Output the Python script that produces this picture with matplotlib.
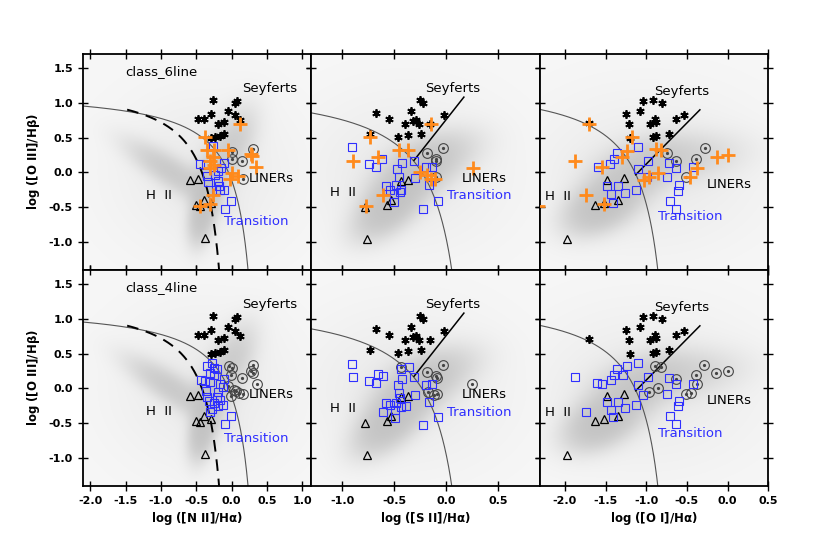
import numpy as np
import matplotlib
matplotlib.use('Agg')
import matplotlib.pyplot as plt

# ---- data ----
# Seyferts (same objects in both rows)
sey_n2 = [(-0.261, 1.036), (-0.48, 0.767), (-0.385, 0.767), (-0.294, 0.844), (-0.185, 0.691),
          (-0.109, 0.729), (-0.052, 0.887), (0.043, 0.993), (0.071, 1.026), (0.043, 0.825),
          (0.123, 0.748), (-0.29, 0.489), (-0.228, 0.513), (-0.166, 0.528), (-0.109, 0.547)]
sey_s2 = [(-0.68, 0.849), (-0.549, 0.772), (-0.734, 0.552), (-0.469, 0.504), (-0.399, 0.691),
          (-0.367, 0.537), (-0.342, 0.882), (-0.319, 0.739), (-0.287, 0.753), (-0.265, 0.691),
          (-0.255, 1.041), (-0.224, 0.993), (-0.239, 0.547), (-0.153, 0.695), (-0.026, 0.825)]
sey_o1 = [(-1.044, 1.026), (-0.921, 1.041), (-0.803, 0.993), (-1.077, 0.882), (-1.249, 0.839),
          (-1.699, 0.705), (-1.208, 0.695), (-0.954, 0.695), (-0.893, 0.763), (-0.88, 0.729),
          (-0.635, 0.763), (-0.536, 0.825), (-1.2, 0.489), (-0.913, 0.513), (-0.88, 0.528),
          (-0.717, 0.547)]

# H II (triangles)
hii_n2 = [(-0.584, -0.11), (-0.48, -0.091), (-0.499, -0.468), (-0.451, -0.482), (-0.394, -0.396),
          (-0.29, -0.435), (-0.38, -0.946)]
hii_s2 = [(-0.437, -0.12), (-0.372, -0.105), (-0.536, -0.398), (-0.568, -0.47), (-0.779, -0.49),
          (-0.766, -0.96)]
hii_o1 = [(-1.487, -0.115), (-1.269, -0.086), (-1.634, -0.468), (-1.519, -0.44), (-1.343, -0.4),
          (-1.97, -0.95)]

# class_6line (top row)
lin6_n2 = [(0.309, 0.341), (0.0, 0.297), (0.0, 0.192), (0.142, 0.163), (0.166, -0.10)]
lin6_s2 = [(-0.185, 0.283), (-0.032, 0.345), (-0.102, 0.187), (-0.096, 0.17), (-0.096, -0.072)]
lin6_o1 = [(-0.749, 0.283), (-0.635, 0.168), (-0.393, 0.192), (-0.278, 0.345), (-0.516, -0.072)]

tr6_n2 = [(-0.267, 0.373), (-0.443, 0.123), (-0.111, 0.133), (-0.149, 0.07), (-0.196, 0.023),
          (-0.348, -0.045), (-0.339, -0.141), (-0.196, -0.121), (-0.182, -0.188), (-0.215, -0.246),
          (-0.158, -0.256), (-0.111, -0.256), (-0.006, -0.409), (-0.087, -0.524), (-0.358, 0.109),
          (-0.229, -0.035)]
tr6_s2 = [(-0.91, 0.36), (-0.741, 0.12), (-0.677, 0.082), (-0.616, 0.192), (-0.473, 0.048),
          (-0.421, 0.139), (-0.457, -0.062), (-0.581, -0.192), (-0.543, -0.245), (-0.479, -0.182),
          (-0.431, -0.254), (-0.501, -0.312), (-0.447, -0.278), (-0.501, -0.422), (-0.31, 0.168),
          (-0.303, -0.077), (-0.198, 0.072), (-0.137, 0.072), (-0.166, -0.182), (-0.08, -0.408),
          (-0.224, -0.518)]
tr6_o1 = [(-1.106, 0.36), (-1.355, 0.283), (-1.392, 0.187), (-1.446, 0.12), (-1.597, 0.082),
          (-0.975, 0.168), (-1.097, 0.043), (-0.717, 0.139), (-0.639, 0.058), (-0.741, -0.072),
          (-1.487, -0.197), (-1.343, -0.192), (-1.261, -0.293), (-1.437, -0.312), (-1.413, -0.432),
          (-1.126, -0.245), (-0.987, -0.062), (-0.422, 0.072), (-0.594, -0.173), (-0.606, -0.264),
          (-0.708, -0.408), (-0.635, -0.518)]

amb6_n2 = [(0.119, 0.691), (-0.38, 0.513), (-0.347, 0.321), (-0.242, 0.321), (-0.047, 0.321),
           (-0.261, 0.225), (-0.299, 0.168), (-0.252, 0.106), (-0.309, 0.058), (0.294, 0.235),
           (0.271, 0.259), (0.342, 0.072), (0.009, -0.014), (0.09, -0.053), (-0.024, -0.101),
           (-0.261, -0.326), (-0.309, -0.446), (-0.442, -0.48)]
amb6_s2 = [(-0.144, 0.691), (-0.734, 0.513), (-0.453, 0.321), (-0.367, 0.321), (-0.894, 0.168),
           (-0.661, 0.216), (-0.255, 0.01), (-0.185, -0.038), (-0.144, -0.101), (-0.112, -0.101),
           (0.255, 0.058), (-0.607, -0.326), (-0.776, -0.48)]
amb6_o1 = [(-1.699, 0.695), (-1.179, 0.504), (-1.241, 0.307), (-0.88, 0.331), (-0.823, 0.321),
           (-1.876, 0.168), (-1.548, 0.072), (-1.302, 0.216), (-1.028, -0.11), (-0.962, -0.062),
           (-0.852, -0.005), (-0.463, -0.062), (-0.381, 0.058), (-0.135, 0.225), (0.008, 0.249),
           (-1.74, -0.326), (-1.519, -0.446), (-2.33, -0.484)]

# class_4line (bottom row)
lin4_n2 = [(-0.038, 0.32), (0.0, 0.296), (-0.005, 0.186), (0.142, 0.153), (0.304, 0.339),
           (0.28, 0.248), (0.3, 0.22), (0.356, 0.067), (0.033, -0.024), (0.066, -0.043),
           (0.104, -0.062), (0.166, -0.086), (-0.014, -0.11), (-0.047, 0.033)]
lin4_s2 = [(-0.431, 0.306), (-0.182, 0.229), (-0.032, 0.334), (-0.096, 0.181), (-0.086, 0.143),
           (-0.172, -0.053), (-0.118, -0.100), (-0.093, -0.081), (0.249, 0.057)]
lin4_o1 = [(-0.893, 0.319), (-0.823, 0.31), (-0.639, 0.138), (-0.393, 0.186), (-0.291, 0.333),
           (-0.143, 0.224), (0.008, 0.248), (-0.381, 0.071), (-0.455, -0.062), (-0.512, -0.081),
           (-0.852, 0.01), (-0.962, -0.048)]

tr4_n2 = [(-0.277, 0.368), (-0.348, 0.32), (-0.253, 0.296), (-0.206, 0.272), (-0.31, 0.225),
          (-0.253, 0.187), (-0.111, 0.139), (-0.434, 0.12), (-0.301, 0.091), (-0.158, 0.058),
          (-0.12, 0.024), (-0.358, -0.038), (-0.196, -0.052), (-0.348, -0.119), (-0.206, -0.119),
          (-0.168, -0.167), (-0.324, -0.181), (-0.253, -0.205), (-0.12, -0.243), (-0.196, -0.253),
          (-0.277, -0.291), (-0.301, -0.339), (-0.006, -0.396), (-0.087, -0.516), (-0.372, 0.105)]
tr4_s2 = [(-0.91, 0.351), (-0.894, 0.159), (-0.741, 0.111), (-0.677, 0.082), (-0.655, 0.202),
          (-0.613, 0.178), (-0.431, 0.274), (-0.361, 0.303), (-0.421, 0.13), (-0.469, 0.048),
          (-0.457, -0.072), (-0.441, -0.144), (-0.31, 0.168), (-0.303, -0.087), (-0.192, 0.048),
          (-0.137, 0.058), (-0.166, -0.192), (-0.581, -0.207), (-0.543, -0.24), (-0.607, -0.337),
          (-0.479, -0.207), (-0.431, -0.264), (-0.383, -0.25), (-0.495, -0.313), (-0.495, -0.418),
          (-0.08, -0.409), (-0.224, -0.529)]
tr4_o1 = [(-1.876, 0.167), (-1.601, 0.081), (-1.54, 0.067), (-1.437, 0.119), (-1.392, 0.186),
          (-1.355, 0.281), (-1.29, 0.2), (-1.241, 0.319), (-1.106, 0.367), (-0.975, 0.167),
          (-1.097, 0.048), (-1.036, -0.1), (-1.126, -0.243), (-1.487, -0.195), (-1.343, -0.19),
          (-1.261, -0.286), (-1.437, -0.31), (-1.405, -0.41), (-1.74, -0.333), (-0.717, 0.143),
          (-0.639, 0.057), (-0.741, -0.076), (-0.594, -0.181), (-0.606, -0.252), (-0.422, 0.071),
          (-0.708, -0.395), (-0.635, -0.514)]

# SDSS background cloud, described as blobs: (x, y, long sigma, short sigma, angle deg, weight)
cloud_n2 = [(-0.42, -0.60, 0.26, 0.11, 80, 1.2), (-0.85, 0.00, 0.45, 0.13, -33, 0.7),
            (-0.30, -0.10, 0.22, 0.15, 70, 0.8), (0.00, 0.40, 0.35, 0.17, 65, 0.6),
            (-0.40, 0.00, 0.90, 0.80, 0, 0.12)]
cloud_s2 = [(-0.55, -0.50, 0.30, 0.15, 60, 1.2), (-0.32, -0.05, 0.30, 0.18, 50, 0.8),
            (-0.10, 0.25, 0.30, 0.19, 35, 0.5), (-0.40, 0.00, 0.70, 0.80, 0, 0.12)]
cloud_o1 = [(-1.55, -0.50, 0.30, 0.19, 35, 1.2), (-1.20, -0.05, 0.40, 0.21, 35, 0.7),
            (-0.65, 0.20, 0.50, 0.21, 8, 0.45), (-1.00, 0.00, 1.00, 0.80, 0, 0.12)]

# demarcation lines (Kewley 2001 / Kauffmann 2003 / Kewley 2006)
ke01 = {'n2': (0.61, 0.47, 1.19), 's2': (0.72, 0.32, 1.30), 'o1': (0.73, -0.59, 1.33)}
ka03 = (0.61, 0.05, 1.30)
ke06 = {'s2': (1.89, 0.76, -0.31, 0.17), 'o1': (1.18, 1.30, -1.13, -0.34)}

xlims = {'n2': (-2.11, 1.13), 's2': (-1.30, 0.90), 'o1': (-2.31, 0.50)}
xticks = {'n2': [-2.0, -1.5, -1.0, -0.5, 0.0, 0.5, 1.0],
          's2': [-1.0, -0.5, 0.0, 0.5],
          'o1': [-2.0, -1.5, -1.0, -0.5, 0.0, 0.5]}
xlabels = {'n2': r'log ([N II]/H$\mathbf{\alpha}$)', 's2': r'log ([S II]/H$\mathbf{\alpha}$)',
           'o1': r'log ([O I]/H$\mathbf{\alpha}$)'}
yticks = [-1.0, -0.5, 0.0, 0.5, 1.0, 1.5]
ylim = (-1.4, 1.7)

# label positions per column: Seyferts, LINERs, H II, Transition (top, bottom)
lab_sey = {'n2': (0.15, 1.21), 's2': (-0.20, 1.21), 'o1': (-0.90, 1.16)}
lab_lin = {'n2': (0.245, -0.08), 's2': (0.15, -0.08), 'o1': (-0.25, -0.18)}
lab_hii = {'n2': (-1.21, -0.33), 's2': (-1.12, -0.29), 'o1': (-2.24, -0.35)}
lab_tr_top = {'n2': (-0.11, -0.71), 's2': (0.01, -0.33), 'o1': (-0.85, -0.63)}
lab_tr_bot = {'n2': (-0.11, -0.72), 's2': (0.01, -0.34), 'o1': (-0.85, -0.64)}

BLUE = '#2f2fff'
ORANGE = '#ff8a1c'

plt.rcParams['font.family'] = 'DejaVu Sans'
fig = plt.figure(figsize=(8.3, 5.41), dpi=100)

cols = ['n2', 's2', 'o1']
sey = {'n2': sey_n2, 's2': sey_s2, 'o1': sey_o1}
hii = {'n2': hii_n2, 's2': hii_s2, 'o1': hii_o1}
lin6 = {'n2': lin6_n2, 's2': lin6_s2, 'o1': lin6_o1}
lin4 = {'n2': lin4_n2, 's2': lin4_s2, 'o1': lin4_o1}
tr6 = {'n2': tr6_n2, 's2': tr6_s2, 'o1': tr6_o1}
tr4 = {'n2': tr4_n2, 's2': tr4_s2, 'o1': tr4_o1}
amb6 = {'n2': amb6_n2, 's2': amb6_s2, 'o1': amb6_o1}
cloud = {'n2': cloud_n2, 's2': cloud_s2, 'o1': cloud_o1}


def draw_cloud(ax, blobs, xl):
    gx = np.linspace(xl[0], xl[1], 300)
    gy = np.linspace(ylim[0], ylim[1], 300)
    X, Y = np.meshgrid(gx, gy)
    d = np.zeros_like(X)
    for cx, cy, sl, ss, ang, w in blobs:
        t = np.radians(ang)
        u = (X - cx) * np.cos(t) + (Y - cy) * np.sin(t)
        v = -(X - cx) * np.sin(t) + (Y - cy) * np.cos(t)
        d += w * np.exp(-0.5 * ((u / sl) ** 2 + (v / ss) ** 2))
    g = 0.97 - 0.21 * (1.0 - np.exp(-2.2 * d))
    img = np.dstack([g, g, g])
    ax.imshow(img, extent=(xl[0], xl[1], ylim[0], ylim[1]), origin='lower',
              aspect='auto', interpolation='bilinear', zorder=0)


def pts(lst):
    a = np.array(lst)
    return a[:, 0], a[:, 1]


left0, width = 82.7 / 830, 228.5 / 830
bottoms = [(541 - 270) / 541, (541 - 486) / 541]
height = 216 / 541

for r in range(2):
    for c, key in enumerate(cols):
        ax = fig.add_axes([left0 + c * width, bottoms[r], width, height])
        xl = xlims[key]
        draw_cloud(ax, cloud[key], xl)

        # Kewley 2001 maximum starburst line
        a, b, k = ke01[key]
        xx = np.linspace(xl[0], b - 0.02, 400)
        ax.plot(xx, a / (xx - b) + k, color='#555555', lw=0.8, zorder=1)
        if key == 'n2':
            a2, b2, k2 = ka03
            xx = np.linspace(-1.48, 0.0, 300)
            ax.plot(xx, a2 / (xx - b2) + k2, color='black', lw=1.4, ls=(0, (6, 4)), zorder=1)
        else:
            m, q, x0, x1 = ke06[key]
            ax.plot([x0, x1], [m * x0 + q, m * x1 + q], color='black', lw=1.1, zorder=1)

        sx, sy = pts(sey[key])
        ax.plot(sx, sy, ls='none', marker=(6, 2, 0), ms=6, mew=1.3, color='black', zorder=3)
        hx, hy = pts(hii[key])
        ax.plot(hx, hy, ls='none', marker='^', ms=5.5, mfc='none', mec='black', mew=0.9, zorder=3)

        lin = lin6[key] if r == 0 else lin4[key]
        lx, ly = pts(lin)
        ax.plot(lx, ly, ls='none', marker='o', ms=7, mfc='none', mec='#444444', mew=0.8, zorder=3)
        ax.plot(lx, ly, ls='none', marker='o', ms=1.3, color='#444444', zorder=3)

        tr = tr6[key] if r == 0 else tr4[key]
        tx, ty = pts(tr)
        ax.plot(tx, ty, ls='none', marker='s', ms=5.5, mfc='none', mec=BLUE, mew=0.8, zorder=3)

        if r == 0:
            ox, oy = pts(amb6[key])
            ax.plot(ox, oy, ls='none', marker='+', ms=10, mew=2.0, color=ORANGE, zorder=4)

        fs = 9.5
        ax.text(*lab_sey[key], 'Seyferts', fontsize=fs, va='center', zorder=5)
        ax.text(*lab_lin[key], 'LINERs', fontsize=fs, va='center', zorder=5)
        ax.text(*lab_hii[key], 'H  II', fontsize=fs, va='center', zorder=5)
        ltr = lab_tr_top[key] if r == 0 else lab_tr_bot[key]
        ax.text(*ltr, 'Transition', fontsize=fs, va='center', color=BLUE, zorder=5)
        if c == 0:
            ax.text(-1.51, 1.45, 'class_6line' if r == 0 else 'class_4line',
                    fontsize=fs, va='center', zorder=5)

        ax.set_xlim(xl)
        ax.set_ylim(ylim)
        ax.set_xticks(xticks[key])
        ax.set_yticks(yticks)
        ax.tick_params(direction='inout', length=7, width=1.0, top=True, right=True,
                       labelsize=8)
        for lab in ax.get_xticklabels() + ax.get_yticklabels():
            lab.set_fontweight('bold')
        ax.xaxis.set_major_formatter(matplotlib.ticker.FormatStrFormatter('%.1f'))
        ax.yaxis.set_major_formatter(matplotlib.ticker.FormatStrFormatter('%.1f'))
        if r == 0:
            ax.tick_params(labelbottom=False)
        else:
            ax.set_xlabel(xlabels[key], fontsize=8.5, fontweight='bold', labelpad=3)
        if c > 0:
            ax.tick_params(labelleft=False)
        for s in ax.spines.values():
            s.set_linewidth(1.3)

for r in range(2):
    fig.text(33 / 830, bottoms[r] + height / 2, r'log ([O III]/H$\mathbf{\beta}$)',
             rotation=90, ha='center', va='center', fontsize=8.5, fontweight='bold')

fig.savefig('out.png', dpi=100)
